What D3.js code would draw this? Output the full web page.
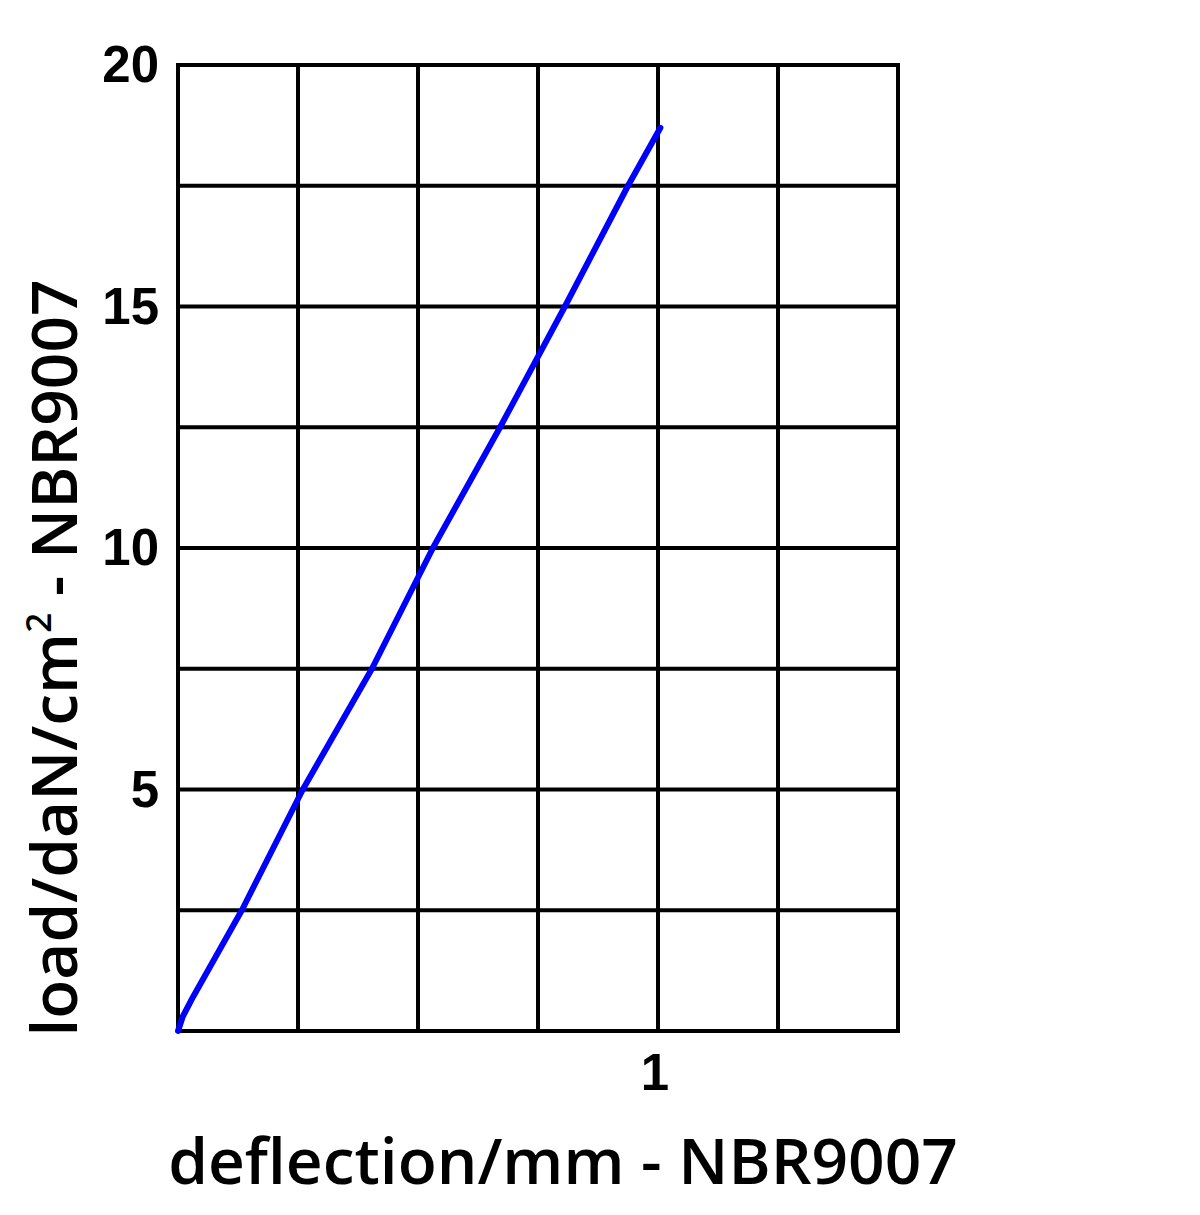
<html>
  <head>
    <style>
      body { margin: 0; background: #fff; }
      .tick-label { font-family: "Liberation Sans", Arial, sans-serif; font-weight: bold; font-size: 51px; fill: #000; }
      .title { font-family: "Open Sans", "Noto Sans", sans-serif; font-weight: 600; font-size: 64px; fill: #000; }
    </style>
  </head>
  <body>
    <script src="https://d3js.org/d3.v7.min.js"></script>
    <script>
    var width = 1200, height = 1215;

    // deflection (mm) vs load (daN/cm2)
    var deflection = [0, 0.01, 0.031, 0.133, 0.26, 0.404, 0.531, 0.671, 0.806, 0.9375, 1.005];
    var load = [0, 0.3, 0.7, 2.5, 5, 7.5, 10, 12.5, 15, 17.5, 18.7];
    var yTickLabels = [5, 10, 15, 20];
    var xTickLabels = [1];
    var xGrid = [0, 0.25, 0.5, 0.75, 1, 1.25, 1.5];
    var yGrid = [0, 2.5, 5, 7.5, 10, 12.5, 15, 17.5, 20];

    var svg = d3.select("body")
        .append("svg")
        .attr("width", width)
        .attr("height", height);

    var x = d3.scaleLinear().domain([0, 1.5]).range([178, 898]);
    var y = d3.scaleLinear().domain([0, 20]).range([1031, 65]);

    // grid
    svg.selectAll(".vgrid")
      .data(xGrid)
      .enter().append("line")
        .attr("x1", function(d) { return x(d); })
        .attr("x2", function(d) { return x(d); })
        .attr("y1", y(0) + 2)
        .attr("y2", y(20) - 2)
        .attr("stroke", "#000")
        .attr("stroke-width", 4);

    svg.selectAll(".hgrid")
      .data(yGrid)
      .enter().append("line")
        .attr("y1", function(d) { return y(d); })
        .attr("y2", function(d) { return y(d); })
        .attr("x1", x(0) - 2)
        .attr("x2", x(1.5) + 2)
        .attr("stroke", "#000")
        .attr("stroke-width", 4);

    // tick labels
    svg.selectAll(".ylab")
      .data(yTickLabels)
      .enter().append("text")
        .attr("class", "tick-label")
        .attr("x", x(0) - 19)
        .attr("y", function(d) { return y(d); })
        .attr("dy", "0.34em")
        .attr("text-anchor", "end")
        .text(function(d) { return d; });

    svg.selectAll(".xlab")
      .data(xTickLabels)
      .enter().append("text")
        .attr("class", "tick-label")
        .attr("x", function(d) { return x(d) - 3; })
        .attr("y", 1090)
        .attr("text-anchor", "middle")
        .text(function(d) { return d; });

    // curve
    var pts = deflection.map(function(d, i) { return [d, load[i]]; });
    var line = d3.line()
        .x(function(d) { return x(d[0]); })
        .y(function(d) { return y(d[1]); });

    svg.append("path")
        .datum(pts)
        .attr("d", line)
        .attr("fill", "none")
        .attr("stroke", "#0000ff")
        .attr("stroke-width", 6)
        .attr("stroke-linecap", "round")
        .attr("stroke-linejoin", "round");

    // axis titles
    svg.append("text")
        .attr("class", "title")
        .attr("x", 563)
        .attr("y", 1184)
        .attr("text-anchor", "middle")
        .text("deflection/mm - NBR9007");

    var yt = svg.append("text")
        .attr("class", "title")
        .attr("transform", "translate(77,658) rotate(-90)")
        .attr("text-anchor", "middle");
    yt.append("tspan").text("load/daN/cm");
    yt.append("tspan").attr("font-size", "35px").attr("dy", "-0.75em").text("2");
    yt.append("tspan").attr("dy", "0.41em").text(" - NBR9007");
    </script>
  </body>
</html>
